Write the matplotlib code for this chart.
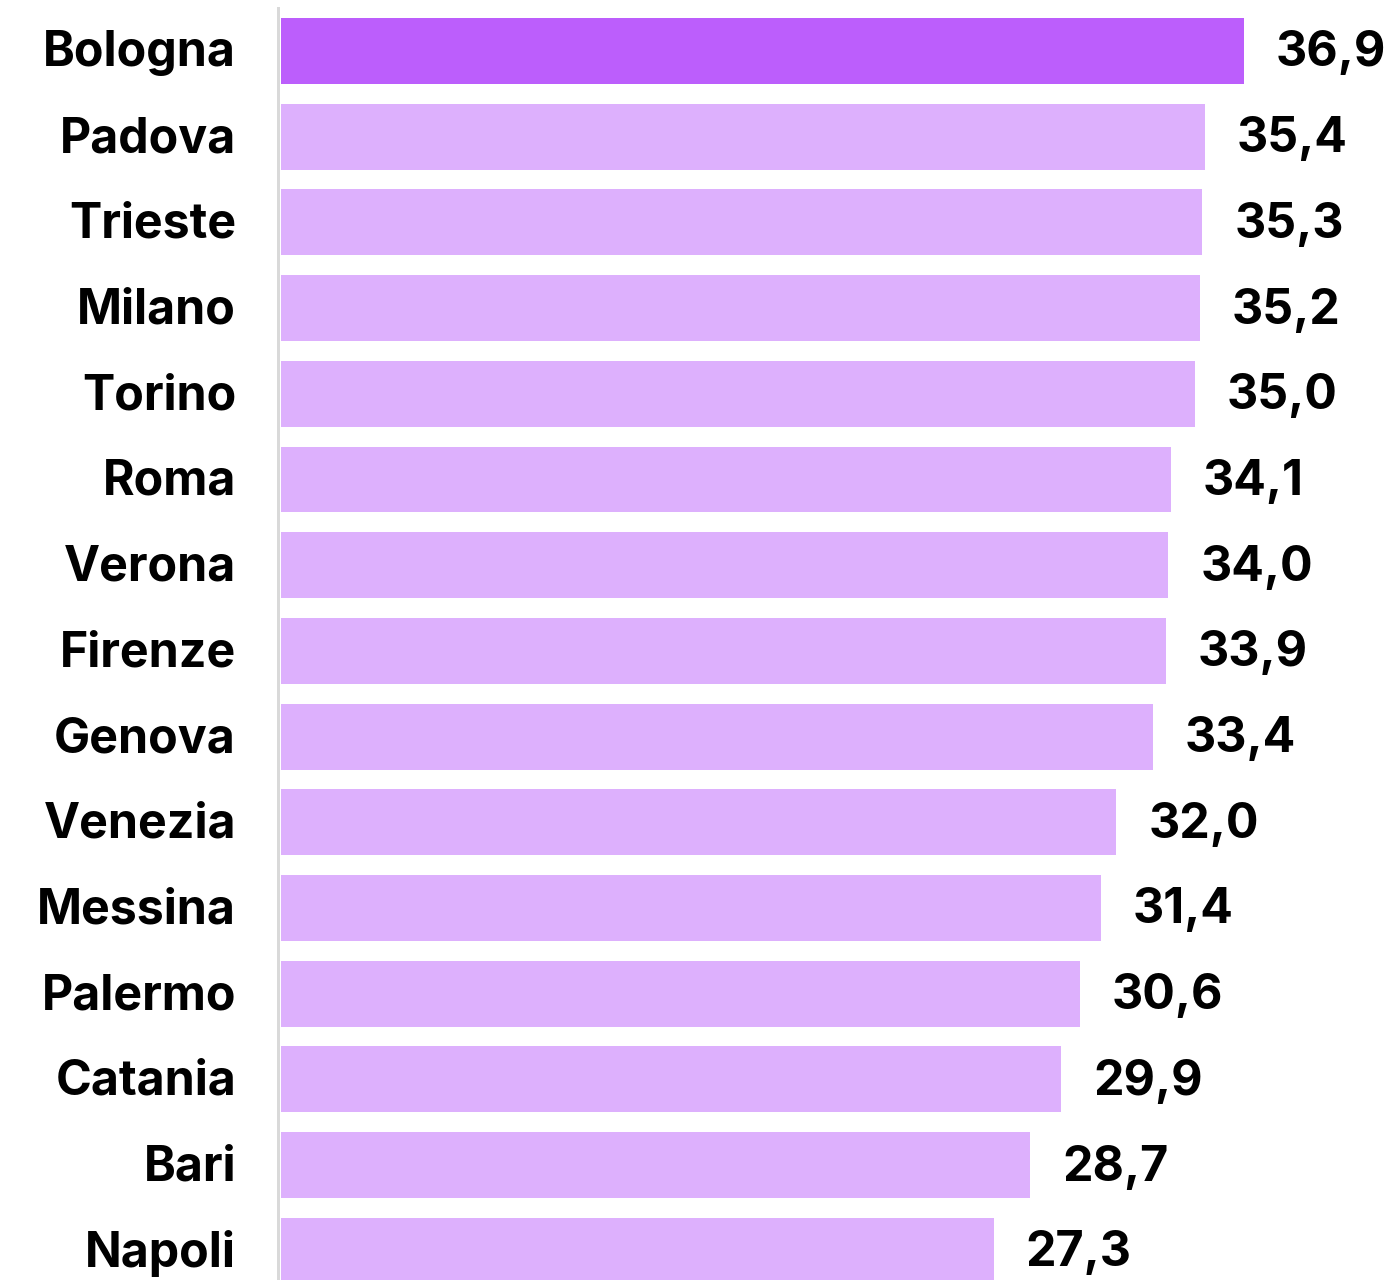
import matplotlib
matplotlib.use("Agg")
import matplotlib.pyplot as plt
import matplotlib.transforms as mtransforms

cities = ["Bologna", "Padova", "Trieste", "Milano", "Torino", "Roma", "Verona",
          "Firenze", "Genova", "Venezia", "Messina", "Palermo", "Catania", "Bari", "Napoli"]
values = [36.9, 35.4, 35.3, 35.2, 35.0, 34.1, 34.0, 33.9, 33.4, 32.0, 31.4, 30.6, 29.9, 28.7, 27.3]
highlight = "Bologna"

W, H, DPI = 1397, 1280, 100
plt.rcParams['font.family'] = ['Inter', 'DejaVu Sans']
fig = plt.figure(figsize=(W / DPI, H / DPI), dpi=DPI)

px_unit = 26.1
left_px = 278.0
x0_px = 281.0
xmin = -(x0_px - left_px) / px_unit
xmax = (W - x0_px) / px_unit

pitch = 85.7
top_px = 8.0
c0 = 51.0
ymin_top = -(c0 - top_px) / pitch
ymax_bot = (len(cities) - 1) + (H - (c0 + (len(cities) - 1) * pitch)) / pitch

ax = fig.add_axes([left_px / W, 0, (W - left_px) / W, (H - top_px) / H])
ys = list(range(len(cities)))
colors = ["#BC5EFC" if c == highlight else "#DDB0FD" for c in cities]
ax.barh(ys, values, height=0.77, color=colors, left=0)
ax.set_xlim(xmin, xmax)
ax.set_ylim(ymax_bot, ymin_top)

for s in ["top", "right", "bottom"]:
    ax.spines[s].set_visible(False)
ax.spines["left"].set_color("#D9D9D9")
ax.spines["left"].set_linewidth(3 * 72 / DPI)

FS = 34.8
shift_up = 2.5
ax.set_xticks([])
ax.set_yticks(ys)
ax.set_yticklabels(cities, fontsize=FS, fontweight="bold", color="#000000")
ax.tick_params(axis="y", length=0, pad=42 * 72 / DPI)
offset = mtransforms.ScaledTranslation(0, shift_up / DPI, fig.dpi_scale_trans)
for lbl in ax.get_yticklabels():
    lbl.set_verticalalignment("center_baseline")
    lbl.set_transform(lbl.get_transform() + offset)

for y, v in zip(ys, values):
    ax.annotate(f"{v:.1f}".replace(".", ","), xy=(v, y),
                xytext=(32 * 72 / DPI, shift_up * 72 / DPI),
                textcoords="offset points", ha="left", va="center_baseline",
                fontsize=FS, fontweight="bold", color="#000000", annotation_clip=False)

fig.savefig("out.png", dpi=DPI)
